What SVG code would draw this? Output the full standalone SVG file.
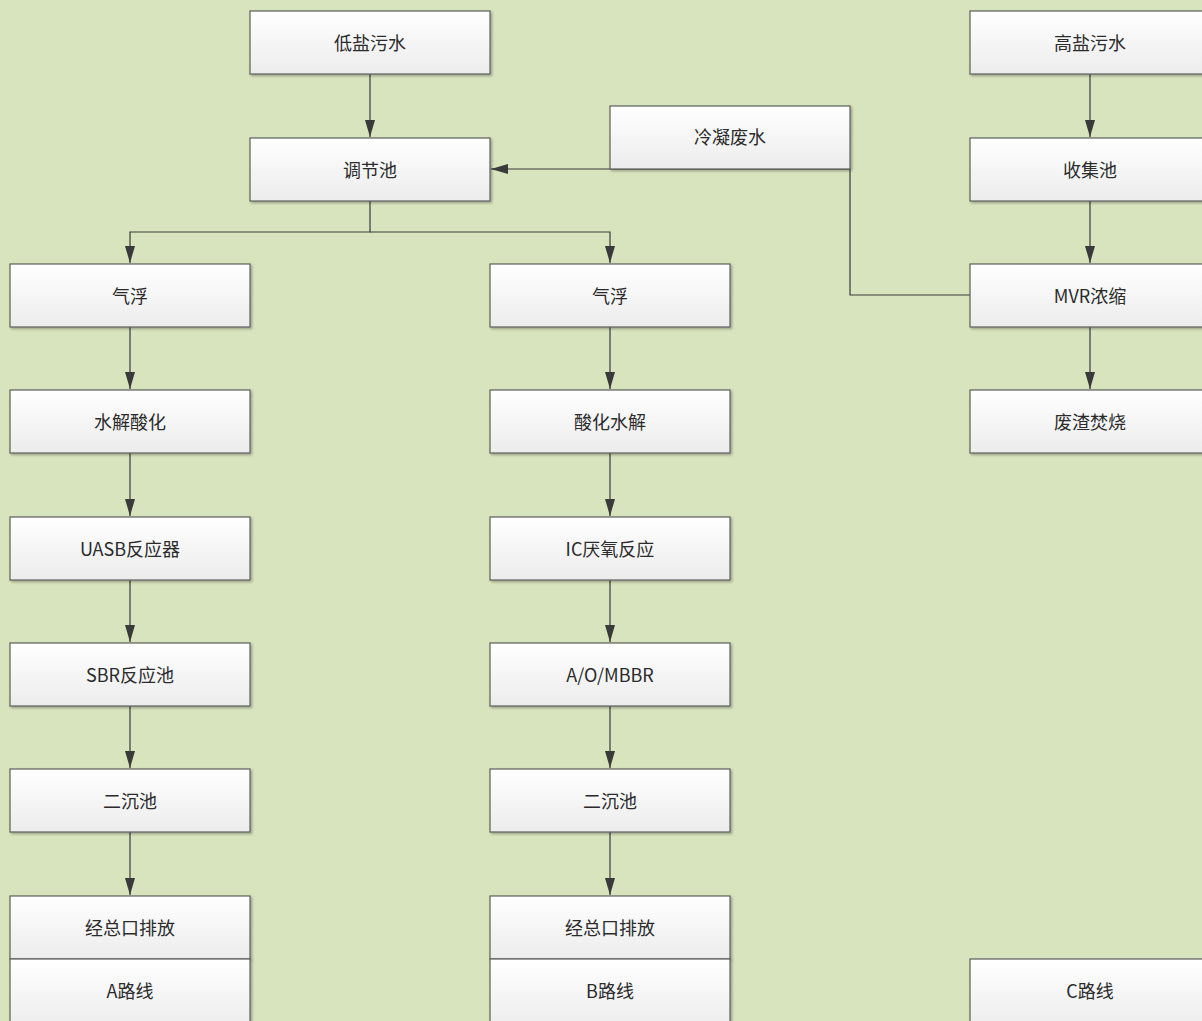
<svg xmlns="http://www.w3.org/2000/svg" width="1202" height="1021" viewBox="0 0 1202 1021">
<defs>
<linearGradient id="g" x1="0" y1="0" x2="0" y2="1">
<stop offset="0" stop-color="#ffffff"/>
<stop offset="1" stop-color="#ececec"/>
</linearGradient>
<filter id="sh" x="-5%" y="-10%" width="115%" height="130%">
<feDropShadow dx="1.5" dy="1.5" stdDeviation="0.8" flood-color="#000" flood-opacity="0.3"/>
</filter>
<marker id="ar" markerWidth="17" markerHeight="10" refX="17" refY="5" viewBox="0 0 17 10" orient="auto" markerUnits="userSpaceOnUse">
<path d="M0,0 L17,5 L0,10 Z" fill="#3a3a3a"/>
</marker>
</defs>
<style>
.box{fill:url(#g);stroke:#5e5e5e;stroke-width:1.2;filter:url(#sh)}
.t{font-family:"Noto Sans CJK SC","Liberation Sans",sans-serif;font-size:18px;fill:#2b2b2b;text-anchor:middle;dominant-baseline:central}
.c{fill:none;stroke:#3a3a3a;stroke-width:1.2}
</style>
<rect width="1202" height="1021" fill="#d8e4bd"/>
<g id="connectors">
<path class="c" d="M370,74 V137" marker-end="url(#ar)"/>
<path class="c" d="M370,201 V232 H130 V263" marker-end="url(#ar)"/>
<path class="c" d="M370,232 H610 V263" marker-end="url(#ar)"/>
<path class="c" d="M970,295 H850 V169 H491" marker-end="url(#ar)"/>
<path class="c" d="M1090,74 V137" marker-end="url(#ar)"/>
<path class="c" d="M1090,201 V263" marker-end="url(#ar)"/>
<path class="c" d="M1090,327 V389" marker-end="url(#ar)"/>
<path class="c" d="M130,327 V389" marker-end="url(#ar)"/>
<path class="c" d="M130,453 V516" marker-end="url(#ar)"/>
<path class="c" d="M130,580 V642" marker-end="url(#ar)"/>
<path class="c" d="M130,706 V768" marker-end="url(#ar)"/>
<path class="c" d="M130,832 V895" marker-end="url(#ar)"/>
<path class="c" d="M610,327 V389" marker-end="url(#ar)"/>
<path class="c" d="M610,453 V516" marker-end="url(#ar)"/>
<path class="c" d="M610,580 V642" marker-end="url(#ar)"/>
<path class="c" d="M610,706 V768" marker-end="url(#ar)"/>
<path class="c" d="M610,832 V895" marker-end="url(#ar)"/>
</g>
<g id="n_dysw"><rect class="box" x="250" y="11" width="240" height="63"/><text class="t" x="370" y="42">低盐污水</text></g>
<g id="n_tjc"><rect class="box" x="250" y="138" width="240" height="63"/><text class="t" x="370" y="169">调节池</text></g>
<g id="n_lnfs"><rect class="box" x="610" y="106" width="240" height="63"/><text class="t" x="730" y="136">冷凝废水</text></g>
<g id="n_gysw"><rect class="box" x="970" y="11" width="240" height="63"/><text class="t" x="1090" y="42">高盐污水</text></g>
<g id="n_sjc"><rect class="box" x="970" y="138" width="240" height="63"/><text class="t" x="1090" y="169">收集池</text></g>
<g id="n_mvr"><rect class="box" x="970" y="264" width="240" height="63"/><text class="t" x="1090" y="295">MVR浓缩</text></g>
<g id="n_fzfs"><rect class="box" x="970" y="390" width="240" height="63"/><text class="t" x="1090" y="421">废渣焚烧</text></g>
<g id="n_c"><rect class="box" x="970" y="959" width="240" height="70"/><text class="t" x="1090" y="990">C路线</text></g>
<g id="n_a1"><rect class="box" x="10" y="264" width="240" height="63"/><text class="t" x="130" y="295">气浮</text></g>
<g id="n_a2"><rect class="box" x="10" y="390" width="240" height="63"/><text class="t" x="130" y="421">水解酸化</text></g>
<g id="n_a3"><rect class="box" x="10" y="517" width="240" height="63"/><text class="t" x="130" y="548">UASB反应器</text></g>
<g id="n_a4"><rect class="box" x="10" y="643" width="240" height="63"/><text class="t" x="130" y="674">SBR反应池</text></g>
<g id="n_a5"><rect class="box" x="10" y="769" width="240" height="63"/><text class="t" x="130" y="800">二沉池</text></g>
<g id="n_a6"><rect class="box" x="10" y="896" width="240" height="63"/><text class="t" x="130" y="927">经总口排放</text></g>
<g id="n_a"><rect class="box" x="10" y="959" width="240" height="70"/><text class="t" x="130" y="990">A路线</text></g>
<g id="n_b1"><rect class="box" x="490" y="264" width="240" height="63"/><text class="t" x="610" y="295">气浮</text></g>
<g id="n_b2"><rect class="box" x="490" y="390" width="240" height="63"/><text class="t" x="610" y="421">酸化水解</text></g>
<g id="n_b3"><rect class="box" x="490" y="517" width="240" height="63"/><text class="t" x="610" y="548">IC厌氧反应</text></g>
<g id="n_b4"><rect class="box" x="490" y="643" width="240" height="63"/><text class="t" x="610" y="674">A/O/MBBR</text></g>
<g id="n_b5"><rect class="box" x="490" y="769" width="240" height="63"/><text class="t" x="610" y="800">二沉池</text></g>
<g id="n_b6"><rect class="box" x="490" y="896" width="240" height="63"/><text class="t" x="610" y="927">经总口排放</text></g>
<g id="n_b"><rect class="box" x="490" y="959" width="240" height="70"/><text class="t" x="610" y="990">B路线</text></g>
</svg>
